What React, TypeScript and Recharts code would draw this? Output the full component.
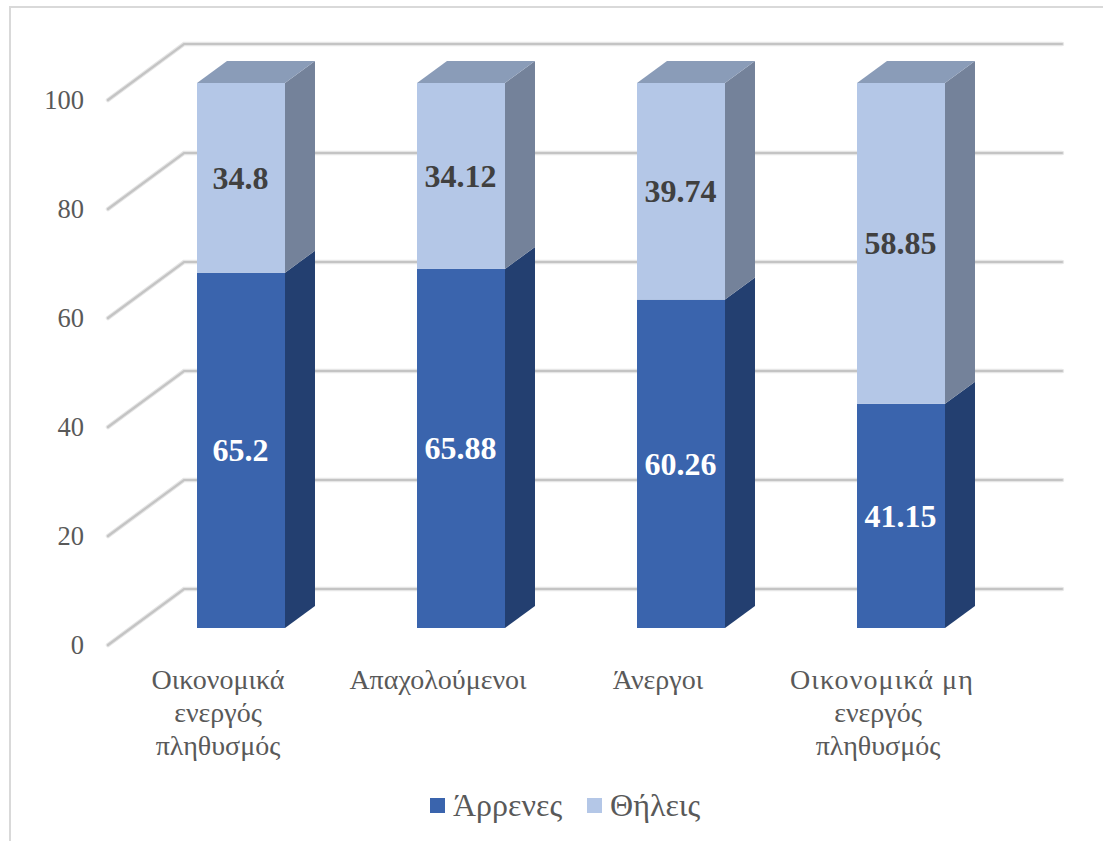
import { BarChart, Bar, CartesianGrid, XAxis, YAxis, Legend, LabelList } from 'recharts'

const categoryLines = [
    ['Οικονομικά', 'ενεργός', 'πληθυσμός'],
    ['Απαχολούμενοι'],
    ['Άνεργοι'],
    ['Οικονομικά μη', 'ενεργός', 'πληθυσμός'],
]
const categories = categoryLines.map((lines) => lines.join(' '))
const maleValues = [65.2, 65.88, 60.26, 41.15]
const femaleValues = [34.8, 34.12, 39.74, 58.85]
const yTicks = [0, 20, 40, 60, 80, 100]

const data = categories.map((name, i) => ({ name, male: maleValues[i], female: femaleValues[i] }))

const FONT = '"Liberation Serif", serif'

// fake 3D: offset of the bars from the axis, and how deep they go
const BAR_DX = 23
const BAR_DY = -17
const DEPTH_X = 30
const DEPTH_Y = -22

const box3d = (side: string, top?: string) => (props: any) => {
    const { x, y, width, height, fill } = props
    const l = x + BAR_DX
    const r = l + width
    const t = y + BAR_DY
    const b = t + height
    return (
        <g>
            <polygon points={`${r},${t} ${r + DEPTH_X},${t + DEPTH_Y} ${r + DEPTH_X},${b + DEPTH_Y} ${r},${b}`} fill={side} />
            {top && (
                <polygon points={`${l},${t} ${l + DEPTH_X},${t + DEPTH_Y} ${r + DEPTH_X},${t + DEPTH_Y} ${r},${t}`} fill={top} />
            )}
            <rect x={l} y={t} width={width} height={height} fill={fill} />
        </g>
    )
}

const barLabel = (color: string) => (props: any) => {
    const { x, y, width, height, value } = props
    return (
        <text
            x={x + BAR_DX + width / 2 - 0.5}
            y={y + BAR_DY + height / 2}
            textAnchor="middle"
            dominantBaseline="central"
            fontFamily={FONT}
            fontSize={32}
            fontWeight="bold"
            fill={color}
        >
            {value}
        </text>
    )
}

const gridLine = (props: any) => {
    const { x1, x2, y1, index } = props
    const pts = `${x1},${y1} ${x1 + 76},${y1 - 56} ${x2 + 74},${y1 - 56}`
    return (
        <g key={index}>
            <polyline points={pts} fill="none" stroke="#e6e6e6" strokeWidth={4.5} strokeLinecap="round" />
            <polyline points={pts} fill="none" stroke="#c4c4c4" strokeWidth={2.2} strokeLinecap="round" />
        </g>
    )
}

const CategoryTick = (props: any) => {
    const { x, y, index } = props
    return (
        <text x={x} y={y + 24} textAnchor="middle" fill="#595959" fontFamily={FONT} fontSize={28}>
            {categoryLines[index].map((line, i) => {
                // the two-word line sits a little wider and further right in the original
                const wide = line.includes(' ')
                return (
                    <tspan key={line} x={wide ? x + 4 : x} dy={i ? 33 : 0} letterSpacing={wide ? 1.1 : 0}>
                        {line}
                    </tspan>
                )
            })}
        </text>
    )
}

const renderLegend = (props: any) => (
    <div style={{ display: 'flex', fontFamily: FONT, fontSize: 32, color: '#595959' }}>
        {props.payload.map((item: any, i: number) => (
            <div key={item.value} style={{ display: 'flex', alignItems: 'center', marginLeft: i ? 25 : 0 }}>
                <span style={{ width: 15, height: 15, background: item.color, marginRight: 8 }} />
                {item.value}
            </div>
        ))}
    </div>
)

const App = () => {
    return (
        <div style={{ position: 'absolute', left: 0, top: 0, width: 1103, height: 841, background: '#fff', overflow: 'hidden' }}>
            <div style={{ position: 'absolute', left: 9, top: 6, right: -4, bottom: -4, borderLeft: '2px solid #d9d9d9', borderTop: '2px solid #d9d9d9' }} />
            <BarChart
                width={1103}
                height={841}
                data={data}
                barSize={88}
                margin={{ top: 100, right: 115, bottom: 76, left: 48 }}
                style={{ position: 'absolute', left: 0, top: 0 }}
            >
                <CartesianGrid vertical={false} horizontal={gridLine} />
                <XAxis
                    dataKey="name"
                    interval={0}
                    axisLine={false}
                    tickLine={false}
                    height={120}
                    tick={CategoryTick}
                    tickMargin={14}
                />
                <YAxis
                    domain={[0, 100]}
                    ticks={yTicks}
                    width={60}
                    axisLine={false}
                    tickLine={false}
                    tickMargin={18}
                    tick={{ fill: '#595959', fontFamily: FONT, fontSize: 26.5 }}
                />
                <Legend
                    layout="horizontal"
                    align="center"
                    verticalAlign="middle"
                    content={renderLegend}
                    wrapperStyle={{ left: 430, top: 787, width: 320, height: 44 }}
                />
                <Bar dataKey="male" name="Άρρενες" stackId="a" fill="#3A64AD" isAnimationActive={false} shape={box3d('#233F70')}>
                    <LabelList dataKey="male" content={barLabel('#ffffff')} />
                </Bar>
                <Bar dataKey="female" name="Θήλεις" stackId="a" fill="#B4C7E7" isAnimationActive={false} shape={box3d('#74829A', '#8A9CB8')}>
                    <LabelList dataKey="female" content={barLabel('#404040')} />
                </Bar>
            </BarChart>
        </div>
    )
}

export default App
